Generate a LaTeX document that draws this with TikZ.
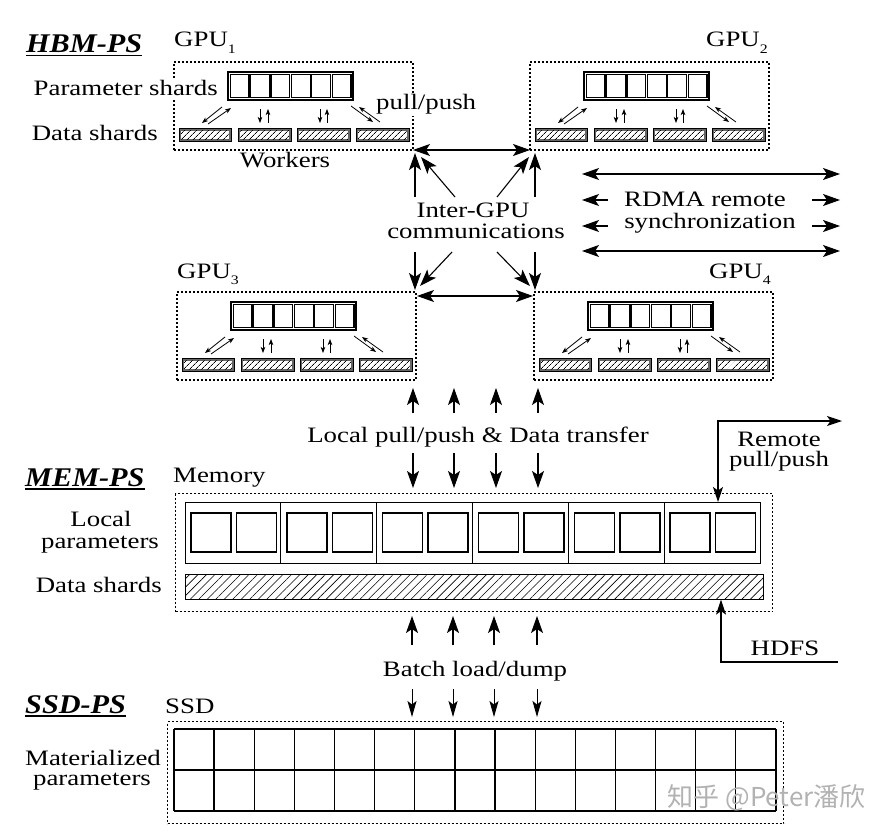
\documentclass[tikz,border=0pt]{standalone}
\usepackage{fontspec}
\setmainfont{Liberation Serif}[FakeStretch=1.22]
\newfontfamily\titlefont{Liberation Serif}[FakeStretch=1.12]
\newfontfamily\cjkfont{Noto Sans CJK SC}
\usetikzlibrary{arrows.meta,patterns.meta}
\newcommand\gsub[1]{\raisebox{-0.6ex}{\fontsize{13}{13}\selectfont #1}}
\newcommand\myul[1]{\leavevmode\setbox0=\hbox{#1}\rlap{\rule[-3.5pt]{\wd0}{1.8pt}}\box0}
\tikzset{
 txt/.style={font=\fontsize{22}{24}\selectfont, inner sep=1pt},
 wtxt/.style={txt, fill=white},
 title/.style={font=\titlefont\fontsize{27}{29}\selectfont\bfseries\itshape, inner sep=0pt},
 dotbox/.style={draw, line width=1.3pt, dash pattern=on 2pt off 2pt},
 pbox/.style={draw, line width=1.2pt},
 cellbox/.style={draw, line width=1.2pt},
 msq/.style={draw, line width=1.5pt},
 shard/.style={draw=black, line width=0.8pt, fill=black!60},
 hatchS/.style={pattern={Lines[angle=45,distance=4pt,line width=0.7pt]}},
 big/.style={-{Stealth[length=17pt,width=12pt,inset=4pt]}, line width=1.1pt},
 bigb/.style={{Stealth[length=17pt,width=12pt,inset=4pt]}-{Stealth[length=17pt,width=12pt,inset=4pt]}, line width=1.1pt},
 med/.style={-{Stealth[length=15pt,width=10pt,inset=3.5pt]}, line width=1.1pt},
 medb/.style={{Stealth[length=15pt,width=10pt,inset=3.5pt]}-{Stealth[length=15pt,width=10pt,inset=3.5pt]}, line width=1.1pt},
 ssdarr/.style={-{Stealth[length=16pt,width=9pt,inset=3.5pt]}, line width=1pt},
 small/.style={-{Stealth[length=6pt,width=4.5pt,inset=1.5pt]}, line width=0.8pt},
}
\newcommand\gpuunit[3]{%
 \begin{scope}[shift={(#1,#2)}]
  \node[dotbox, anchor=north west, minimum width=239pt, minimum height=88pt, inner sep=0pt, outer sep=0pt] (#3) at (0,0) {};
  \node[pbox, anchor=north west, minimum width=125pt, minimum height=28pt, inner sep=0pt, outer sep=0pt] (#3p) at (54,10) {};
  \foreach \i in {0,...,5}{\draw[cellbox] ({56.2+\i*20.4},12.4) rectangle ++(18.7,23.2);}
  \foreach \a/\b in {5/57,64/117,123/176,182/235}{%
    \draw[shard] (\a,66.5) rectangle (\b,79.5);
    \fill[white] (\a+2.2,68.7) rectangle (\b-2.2,77.3);
    \path[hatchS] (\a+2.2,68.7) rectangle (\b-2.2,77.3);}
  \draw[small] (48,45) -- (28,61);
  \draw[small] (34,62) -- (57,46);
  \draw[small] (86,47) -- (86,61);
  \draw[small] (94,61) -- (94,47);
  \draw[small] (146,47) -- (146,61);
  \draw[small] (153,61) -- (153,47);
  \draw[small] (177,44) -- (199,60);
  \draw[small] (206,60) -- (185,45);
 \end{scope}}
\begin{document}
\begin{tikzpicture}[x=1pt,y=-1pt]
\useasboundingbox (0,0) rectangle (888,832);
% ---------------- HBM-PS ----------------
\node[title, anchor=base west] (hbm) at (26,53) {\myul{HBM-PS}};
\gpuunit{174}{62}{g1}
\gpuunit{530}{62}{g2}
\gpuunit{177}{292}{g3}
\gpuunit{534}{292}{g4}
\node[txt, anchor=base west] (l1) at (173,47) {GPU\gsub{1}};
\node[txt, anchor=base east] (l2) at (769,47) {GPU\gsub{2}};
\node[txt, anchor=base west] (l3) at (176,278) {GPU\gsub{3}};
\node[txt, anchor=base east] (l4) at (772,278) {GPU\gsub{4}};
\node[wtxt, anchor=base east, inner ysep=3pt] (ps) at (219,96) {Parameter shards};
\node[txt, anchor=base east] (ds1) at (159,140) {Data shards};
\node[wtxt, anchor=base west] (pp) at (375,110) {pull/push};
\node[wtxt, anchor=base, inner xsep=9pt] (wk) at (285,167) {Workers};
% inter-GPU
\draw[bigb] (g1.south east) -- (g2.south west);
\coordinate (a1) at (415,197); \coordinate (a1t) at (415,153); \draw[big] (a1) -- (a1t);
\coordinate (a2) at (455,197); \coordinate (a2t) at (421,157); \draw[big] (a2) -- (a2t);
\coordinate (a3) at (497,197); \coordinate (a3t) at (529,157); \draw[big] (a3) -- (a3t);
\coordinate (a4) at (535,197); \coordinate (a4t) at (535,153); \draw[big] (a4) -- (a4t);
\coordinate (b1) at (415,252); \coordinate (b1t) at (415,290); \draw[big] (b1) -- (b1t);
\coordinate (b2) at (452,252); \coordinate (b2t) at (420,286); \draw[big] (b2) -- (b2t);
\coordinate (b3) at (497,252); \coordinate (b3t) at (530,286); \draw[big] (b3) -- (b3t);
\coordinate (b4) at (535,252); \coordinate (b4t) at (535,290); \draw[big] (b4) -- (b4t);
\coordinate (hl) at (417,296); \coordinate (hr2) at (533,296); \draw[bigb] (hl) -- (hr2);
\node[txt, anchor=base] (ig1) at (473,217) {Inter-GPU};
\node[txt, anchor=base] (ig2) at (476,238) {communications};
% RDMA
\coordinate (r1l) at (582,174); \coordinate (r1r) at (840,174); \draw[bigb] (r1l) -- (r1r);
\coordinate (r2l) at (582,200); \coordinate (r2a) at (608,200); \draw[big] (r2a) -- (r2l);
\coordinate (r2b) at (812,200); \coordinate (r2r) at (840,200); \draw[big] (r2b) -- (r2r);
\coordinate (r3l) at (582,226); \coordinate (r3a) at (608,226); \draw[big] (r3a) -- (r3l);
\coordinate (r3b) at (812,226); \coordinate (r3r) at (840,226); \draw[big] (r3b) -- (r3r);
\coordinate (r4l) at (582,251); \coordinate (r4r) at (840,251); \draw[bigb] (r4l) -- (r4r);
\node[txt, anchor=base] (rd1) at (705,206) {RDMA remote};
\node[txt, anchor=base] (rd2) at (710,228) {synchronization};
% local pull/push
\foreach \x [count=\k] in {413,454,496,538}{
  \coordinate (lu\k) at (\x,413); \coordinate (lt\k) at (\x,388); \draw[big] (lu\k) -- (lt\k);
  \coordinate (ld\k) at (\x,453); \coordinate (lb\k) at (\x,488); \draw[big] (ld\k) -- (lb\k);
}
\node[txt, anchor=base] (lpp) at (478,442) {Local pull/push \& Data transfer};
% ---------------- MEM-PS ----------------
\node[title, anchor=base west] (memt) at (25,486) {\myul{MEM-PS}};
\node[txt, anchor=base west] (meml) at (172,482) {Memory};
\node[dotbox, anchor=north west, minimum width=597pt, minimum height=118pt, inner sep=0pt] (mem) at (175,493) {};
\node[pbox, anchor=north west, minimum width=575pt, minimum height=61pt, inner sep=0pt] (lp) at (185,502) {};
\foreach \k in {1,...,5}{\draw[pbox] ({185+\k*95.83},502) -- ({185+\k*95.83},563);}
\foreach \k in {0,...,5}{
  \draw[msq] ({185+\k*95.83+6},513) rectangle ++(40,39);
  \draw[msq] ({185+\k*95.83+51.5},513) rectangle ++(40,39);
}
\node[draw, line width=1.2pt, anchor=north west, minimum width=578pt, minimum height=25pt, inner sep=0pt, pattern={Lines[angle=45,distance=6pt,line width=0.6pt]}] (db) at (185,574) {};
\node[txt, anchor=base] (lo1) at (101,526) {Local};
\node[txt, anchor=base] (lo2) at (100,548) {parameters};
\node[txt, anchor=base east] (ds2) at (163,592) {Data shards};
% remote pull/push
\coordinate (rc) at (718,421); \coordinate (rr) at (842,421);
\draw[medb] (rc |- lp.north) -- (rc) -- (rr);
\node[txt, anchor=base] (rp1) at (779,446) {Remote};
\node[txt, anchor=base] (rp2) at (779,466) {pull/push};
% HDFS
\coordinate (hc) at (721,662); \coordinate (hr) at (838,662);
\draw[med] (hr) -- (hc) -- (hc |- db.south);
\node[txt, anchor=base] (hdfs) at (785,655) {HDFS};
% batch load/dump
\foreach \x [count=\k] in {412,453,494,537}{
  \coordinate (bu\k) at (\x,645); \coordinate (bt\k) at (\x,616); \draw[big] (bu\k) -- (bt\k);
  \coordinate (bd\k) at (\x,689); \coordinate (bb\k) at (\x,717); \draw[ssdarr] (bd\k) -- (bb\k);
}
\node[txt, anchor=base] (bld) at (475,676) {Batch load/dump};
% ---------------- SSD-PS ----------------
\node[title, anchor=base west] (ssdt) at (25,713) {\myul{SSD-PS}};
\node[txt, anchor=base west] (ssdl) at (164,713) {SSD};
\node[dotbox, anchor=north west, minimum width=616pt, minimum height=102pt, inner sep=0pt] (ssd) at (167,721) {};
\draw[line width=2pt] (174,729) -- (776,729);
\draw[line width=1.8pt] (174,770) -- (776,770);
\draw[line width=2.2pt] (174,811) -- (776,811);
\foreach \k in {0,...,15}{\draw[line width=1.3pt] ({174+\k*40.13},729) -- ({174+\k*40.13},811);}
\node[txt, anchor=base] (mat1) at (93,765) {Materialized};
\node[txt, anchor=base] (mat2) at (92,785) {parameters};
% watermark
\node[anchor=base east, font=\cjkfont\fontsize{26}{28}\selectfont, text=black!30, inner sep=0pt] (wm) at (866,806) {知乎 @Peter潘欣};
\end{tikzpicture}
\end{document}
